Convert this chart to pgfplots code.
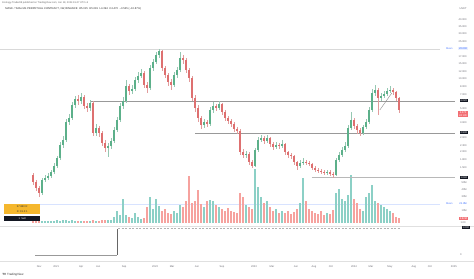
\documentclass[border=0pt]{standalone}
\usepackage{pgfplots}
\pgfplotsset{compat=1.18}
\usepackage{pgfplotstable}
\usepackage{fontspec}
\setmainfont{Liberation Sans}
\definecolor{up}{RGB}{92,176,138}
\definecolor{dn}{RGB}{222,112,112}
\definecolor{upw}{RGB}{150,200,178}
\definecolor{dnw}{RGB}{226,156,156}
\definecolor{vup}{RGB}{140,208,198}
\definecolor{vdn}{RGB}{246,162,158}
\definecolor{tvgray}{RGB}{110,110,118}
\definecolor{tvdark}{RGB}{19,23,34}
\definecolor{tvred}{RGB}{242,110,115}
\definecolor{tvblue}{RGB}{41,98,255}
\definecolor{tvyellow}{RGB}{245,183,45}
\newcommand\tvs{\fontsize{2.6pt}{3pt}\selectfont}
\pgfplotstableread{
x o h l c v
33 51 53 41 44 2
36 44 46 35 38 2
39 38 40 29 33 3
42 33 48 31 46 2
45 46 51 44 48 1.5
48 48 53 46 50 1.5
51 50 56 48 54 2
54 54 63 52 60 2
57 60 70 58 68 2.5
60 68 84 66 81 2
63 81 90 78 86 2.5
66 86 107 84 104 3
69 104 112 101 108 2
72 108 124 106 121 2.5
75 121 130 118 127 2
78 127 131 121 125 2
81 125 133 122 129 2
84 129 131 117 120 1.5
87 120 123 114 118 2
90 118 126 115 123 2
93 123 125 90 93 3
96 93 102 90 98 2
99 98 100 89 93 2
102 93 95 80 83 2.5
105 83 86 74 78 3
108 78 83 69 80 3
111 80 88 77 85 2.5
114 85 99 83 96 6
117 96 109 94 106 12
120 106 123 104 120 8
123 120 129 117 125 24
126 125 146 123 140 8
129 140 142 131 135 6
132 135 141 132 137 5
135 137 149 135 146 10
138 146 154 143 150 6
141 150 157 148 153 4
144 153 155 138 141 5
147 141 144 133 138 16
150 138 161 136 158 26
153 158 167 155 164 14
156 164 174 162 171 24
159 171 177 168 175 17
162 175 176 155 158 12
165 158 160 148 151 14
168 151 153 140 144 10
171 144 147 136 141 9
174 141 154 139 151 12
177 151 159 148 156 10
180 156 174 154 168 18
183 168 171 162 166 16
186 166 168 153 156 22
189 156 158 144 148 47
192 148 150 125 128 20
195 128 131 114 118 22
198 118 121 104 108 33
201 108 110 97 101 19
204 101 107 98 104 16
207 104 106 99 102 22
210 102 119 100 116 23
213 116 124 113 120 22
216 120 122 115 118 18
219 118 125 116 122 16
222 122 123 111 114 14
225 114 116 105 108 12
228 108 110 102 105 15
231 105 107 99 102 12
234 102 104 94 97 11
237 97 99 92 95 10
240 95 97 71 74 30
243 74 77 68 71 26
246 71 75 68 72 18
249 72 74 61 64 16
252 64 66 58 60 14
255 60 78 59 76 54
258 76 89 74 86 36
261 86 91 84 88 26
264 88 90 82 85 20
267 85 91 83 88 22
270 88 89 79 82 16
273 82 84 76 79 12
276 79 84 77 81 14
279 81 83 77 80 10
282 80 86 78 82 12
285 82 83 71 74 10
288 74 75 68 71 12
291 71 73 67 70 9
294 70 71 61 64 11
297 64 65 56 60 14
300 60 66 58 63 20
303 63 68 61 64 45
306 64 66 61 63 22
309 63 65 60 62 14
312 62 63 56 58 12
315 58 60 54 56 10
318 56 58 53 55 9
321 55 57 52 54 12
324 54 56 51 53 8
327 53 56 51 54 10
330 54 56 50 52 9
333 52 54 48 51 13
336 51 68 50 66 30
339 66 74 64 71 34
342 71 79 69 76 24
345 76 84 74 80 22
348 80 101 78 98 28
351 98 114 96 106 48
354 106 108 97 100 24
357 100 102 92 96 20
360 96 98 90 93 14
363 93 101 91 99 12
366 99 107 97 104 26
369 104 119 102 116 30
372 116 137 114 133 38
375 133 141 130 136 22
378 136 138 111 128 20
381 128 133 125 130 18
384 130 135 128 132 16
387 132 138 130 135 14
390 135 140 133 136 12
393 136 138 131 134 10
396 134 135 125 128 6
399 128 129 113 116 5
}\candles
\pgfplotsset{ebar/.style={forget plot, mark=none, draw=none,
  error bars/.cd, y dir=both, y explicit, error mark=none, error bar style={solid, draw=#1}}}
\begin{document}
\begin{tikzpicture}
\fill[white] (0pt,0pt) rectangle (474pt,279pt);
% titles
\node[anchor=west, inner sep=0pt, font=\fontsize{2.5pt}{3pt}\selectfont, text=black!60] at (2pt,276pt) {Ecology-Trader88 published on TradingView.com, Jun 18, 2024 19:47 UTC+3};
\node[anchor=west, inner sep=0pt, font=\fontsize{2.7pt}{3pt}\selectfont, text=black!80] at (5pt,270.5pt) {MASK / TetherUS PERPETUAL CONTRACT, 1W, BINANCE \ O5.015 \ H5.081 \ L4.394 \ C4.470 \ −0.545 (−10.87\%)};
\begin{axis}[scale only axis, width=474pt, height=247pt, at={(0pt,17pt)}, anchor=south west,
  xmin=0, xmax=474, ymin=-36, ymax=211, clip=false,
  axis line style={draw=none}, tick style={draw=none},
  ytick={206,199,192,184,169,162,154,147,139,131,117,103,88,80,74,66,58,43,36,29,15},
  yticklabels={40.000,35.000,30.000,25.000,17.000,15.000,12.000,10.000,8.000,7.000,5.000,3.600,2.600,2.300,2.000,1.800,1.500,50M,40M,30M,10M},
  yticklabel pos=right, yticklabel style={font=\tvs, text=tvgray, anchor=east, xshift=-7pt, inner sep=0pt},
  xtick={39,56,81,98,124,155,172,197,222,254,272,296,314,331,354,371,390,414,430,454},
  xticklabels={Nov,2021,Apr,Jun,Sep,2022,Mar,Jun,Sep,2023,Mar,Jun,Aug,Oct,2024,Mar,May,Aug,Oct,2025},
  xticklabel style={font=\tvs, text=tvgray, anchor=center, yshift=-5pt, inner sep=0pt}]
% pane separators
\draw[black!12, line width=0.4pt] (axis cs:0,0) -- (axis cs:474,0);
\draw[black!12, line width=0.4pt] (axis cs:0,-35) -- (axis cs:474,-35);
% mean lines
\addplot[black!15, line width=0.4pt] coordinates {(0,177) (440,177)};
\addplot[tvblue!18, line width=0.4pt] coordinates {(35,22) (440,22)};
% volume (base at 3)
\addplot[ebar=vup, error bar style={line width=2.1pt}]
  table[x=x, y expr={\thisrow{c}>=\thisrow{o} ? 3+\thisrow{v}/2 : nan}, y error expr={\thisrow{v}/2}] {\candles};
\addplot[ebar=vdn, error bar style={line width=2.1pt}]
  table[x=x, y expr={\thisrow{c}<\thisrow{o} ? 3+\thisrow{v}/2 : nan}, y error expr={\thisrow{v}/2}] {\candles};
% level lines
\addplot[black!40, line width=0.5pt] coordinates {(90,125) (455,125)};
\addplot[black!40, line width=0.5pt] coordinates {(195,93) (455,93)};
\addplot[black!28, line width=1.3pt] coordinates {(312,48) (455,48)};
% wicks
\addplot[ebar=upw, error bar style={line width=0.45pt}]
  table[x=x, y expr={\thisrow{c}>=\thisrow{o} ? (\thisrow{h}+\thisrow{l})/2 : nan}, y error expr={(\thisrow{h}-\thisrow{l})/2}] {\candles};
\addplot[ebar=dnw, error bar style={line width=0.45pt}]
  table[x=x, y expr={\thisrow{c}<\thisrow{o} ? (\thisrow{h}+\thisrow{l})/2 : nan}, y error expr={(\thisrow{h}-\thisrow{l})/2}] {\candles};
% bodies
\addplot[ebar=up, error bar style={line width=2pt}]
  table[x=x, y expr={\thisrow{c}>=\thisrow{o} ? (\thisrow{o}+\thisrow{c})/2 : nan}, y error expr={max(abs(\thisrow{c}-\thisrow{o})/2,0.4)}] {\candles};
\addplot[ebar=dn, error bar style={line width=2pt}]
  table[x=x, y expr={\thisrow{c}<\thisrow{o} ? (\thisrow{o}+\thisrow{c})/2 : nan}, y error expr={max(abs(\thisrow{c}-\thisrow{o})/2,0.4)}] {\candles};
\addplot[black!45, line width=0.4pt] coordinates {(380,116) (392,133)};
% lower pane indicator
\addplot[black!40, line width=0.5pt] coordinates {(35,-29) (117,-29)};
\addplot[black!60, line width=0.8pt] coordinates {(117,-29) (117,-3)};
\addplot[black!30, line width=0.4pt, dash pattern=on 2pt off 1.5pt] coordinates {(118,-2.5) (400,-2.5)};
% right-side labels
\node[font=\tvs, text=tvgray, anchor=east, inner sep=0pt] at (axis cs:467,217) {USDT};
\node[font=\tvs, text=tvblue!80, anchor=east, inner sep=0pt] at (axis cs:453,177) {Mean};
\node[font=\tvs, text=tvblue, fill=tvblue!10, anchor=east, inner sep=0.6pt] at (axis cs:468,177) {20.000};
\node[font=\tvs, text=white, fill=tvdark, anchor=east, inner sep=0.6pt] at (axis cs:468,125) {6.020};
\node[font=\tvs, text=white, fill=tvred, anchor=east, inner sep=0.6pt, align=center] at (axis cs:468,112) {4.470\\2d 13h};
\node[font=\tvs, text=white, fill=tvdark, anchor=east, inner sep=0.6pt] at (axis cs:468,93) {2.930};
\node[font=\tvs, text=white, fill=tvdark, anchor=east, inner sep=0.6pt] at (axis cs:468,48) {1.040};
\node[font=\tvs, text=tvblue!80, anchor=east, inner sep=0pt] at (axis cs:453,22) {Mean};
\node[font=\tvs, text=tvblue, anchor=east, inner sep=0pt] at (axis cs:467,22) {21.3M};
\node[font=\tvs, text=white, fill=tvred, anchor=east, inner sep=0.6pt] at (axis cs:468,7) {3.82M};
\node[font=\tvs, text=tvgray, anchor=east, inner sep=0pt] at (axis cs:466,3) {1.00};
\node[font=\tvs, text=white, fill=tvdark, anchor=east, inner sep=0.6pt] at (axis cs:470,-1.5) {1.000};
\node[font=\tvs, text=tvgray, anchor=east, inner sep=0pt] at (axis cs:462,-29) {0};
% left labels
\fill[tvyellow] (axis cs:4,17.3) rectangle (axis cs:40,22);
\fill[tvyellow] (axis cs:4,12) rectangle (axis cs:40,16.8);
\fill[tvdark] (axis cs:4,5) rectangle (axis cs:40,10);
\node[font=\tvs, text=black!80, inner sep=0pt] at (axis cs:22,19.6) {57.860 R};
\node[font=\tvs, text=black!80, inner sep=0pt] at (axis cs:22,14.4) {R: 19.2:1};
\node[font=\tvs, text=white, inner sep=0pt] at (axis cs:22,7.5) {1 \ Sell};
\end{axis}
% logo
\node[anchor=west, inner sep=0pt, font=\fontsize{3pt}{3.5pt}\selectfont, text=black!80] at (2pt,4pt) {\textbf{TV} TradingView};
\end{tikzpicture}
\end{document}
